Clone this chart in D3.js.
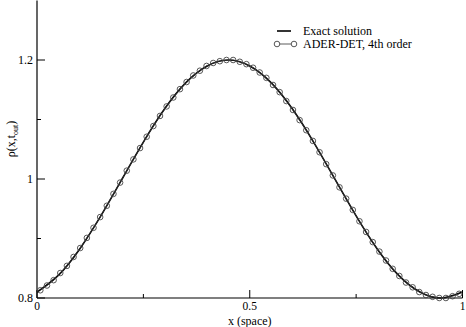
<!DOCTYPE html>
<html>
<head>
<meta charset="utf-8">
<script src="https://cdn.jsdelivr.net/npm/d3@7"></script>
<style>
  body { margin: 0; background: #fff; }
  text { font-family: "Liberation Serif", "DejaVu Serif", serif; fill: #000; }
</style>
</head>
<body>
<div class="svgBox"></div>
<script>
// exact solution, sampled along x
var exactX = [0, 0.05, 0.1, 0.15, 0.2, 0.25, 0.3, 0.35, 0.4, 0.45, 0.5,
              0.55, 0.6, 0.65, 0.7, 0.75, 0.8, 0.85, 0.9, 0.95, 1];
var exactRho = [0.810, 0.838, 0.882, 0.938, 1.000, 1.062, 1.118, 1.162, 1.190, 1.200, 1.190,
                1.162, 1.118, 1.062, 1.000, 0.938, 0.882, 0.838, 0.810, 0.800, 0.810];

// ADER-DET 4th order, cell centres (64 cells)
var aderRho = [0.813, 0.821, 0.830, 0.842, 0.854, 0.869, 0.884, 0.901,
               0.918, 0.936, 0.955, 0.975, 0.994, 1.014, 1.033, 1.052,
               1.071, 1.089, 1.106, 1.122, 1.137, 1.151, 1.163, 1.174,
               1.182, 1.190, 1.195, 1.198, 1.200, 1.200, 1.197, 1.193,
               1.187, 1.179, 1.170, 1.158, 1.146, 1.131, 1.116, 1.099,
               1.082, 1.064, 1.045, 1.025, 1.006, 0.986, 0.967, 0.948,
               0.929, 0.911, 0.894, 0.878, 0.863, 0.849, 0.837, 0.826,
               0.818, 0.810, 0.805, 0.802, 0.800, 0.800, 0.803, 0.807];

var xMajor = [0, 0.5, 1];
var xMinor = [0.25, 0.75];
var yMajor = [0.8, 1.0, 1.2];
var yMinor = [0.9, 1.1];
var legendLabels = ["Exact solution", "ADER-DET, 4th order"];

var W = 466, H = 327;
var margin = {left: 37, right: 3, top: 0, bottom: 29};

var svg = d3.select(".svgBox").append("svg")
    .attr("width", W)
    .attr("height", H);

var x = d3.scaleLinear().domain([0, 1]).range([margin.left, W - margin.right - 0.5]);
var y = d3.scaleLinear().domain([0.8, 1.3]).range([H - margin.bottom, margin.top + 0.5]);

var g = svg.append("g");

// 坐标轴线
g.append("line")
    .attr("x1", x(0)).attr("x2", x(0))
    .attr("y1", y(0.8)).attr("y2", y(1.3))
    .attr("stroke", "#000").attr("stroke-width", 1.2);
g.append("line")
    .attr("x1", x(0)).attr("x2", x(1))
    .attr("y1", y(0.8)).attr("y2", y(0.8))
    .attr("stroke", "#000").attr("stroke-width", 1.2);

// ticks point into the plot
g.selectAll(".xmaj").data(xMajor).enter().append("line")
    .attr("x1", function(d) { return x(d); })
    .attr("x2", function(d) { return x(d); })
    .attr("y1", y(0.8)).attr("y2", y(0.8) - 8)
    .attr("stroke", "#000");
g.selectAll(".xmin").data(xMinor).enter().append("line")
    .attr("x1", function(d) { return x(d); })
    .attr("x2", function(d) { return x(d); })
    .attr("y1", y(0.8)).attr("y2", y(0.8) - 4)
    .attr("stroke", "#000");
g.selectAll(".ymaj").data(yMajor).enter().append("line")
    .attr("x1", x(0)).attr("x2", x(0) + 8)
    .attr("y1", function(d) { return y(d); })
    .attr("y2", function(d) { return y(d); })
    .attr("stroke", "#000");
g.selectAll(".ymin").data(yMinor).enter().append("line")
    .attr("x1", x(0)).attr("x2", x(0) + 4)
    .attr("y1", function(d) { return y(d); })
    .attr("y2", function(d) { return y(d); })
    .attr("stroke", "#000");

// tick labels
g.selectAll(".xlab").data(xMajor).enter().append("text")
    .attr("x", function(d) { return x(d); })
    .attr("y", y(0.8) + 12)
    .attr("text-anchor", "middle")
    .attr("font-size", 11.5)
    .text(function(d) { return d3.format("")(d); });
g.selectAll(".ylab").data(yMajor).enter().append("text")
    .attr("x", x(0) - 4)
    .attr("y", function(d) { return y(d) + 4; })
    .attr("text-anchor", "end")
    .attr("font-size", 12)
    .text(function(d) { return d === 1 ? "1" : d3.format(".1f")(d); });

// axis titles
g.append("text")
    .attr("x", x(0.5))
    .attr("y", H - 2)
    .attr("text-anchor", "middle")
    .attr("font-size", 12)
    .text("x (space)");

var yt = g.append("text")
    .attr("transform", "translate(15," + 139 + ") rotate(-90)")
    .attr("text-anchor", "middle")
    .attr("font-size", 12);
yt.append("tspan").text("ρ(x,t");
yt.append("tspan").attr("font-size", 8).attr("dy", 3).text("out");
yt.append("tspan").attr("dy", -3).text(")");

// exact solution line
var exactData = exactX.map(function(d, i) { return [d, exactRho[i]]; });
var line = d3.line()
    .x(function(d) { return x(d[0]); })
    .y(function(d) { return y(d[1]); })
    .curve(d3.curveNatural);

g.append("path")
    .datum(exactData)
    .attr("d", line)
    .attr("fill", "none")
    .attr("stroke", "#000")
    .attr("stroke-width", 1.6);

// numerical solution: thin line + hollow circles
var aderData = aderRho.map(function(d, i) { return [(i + 0.5) / aderRho.length, d]; });
g.append("path")
    .datum(aderData)
    .attr("d", d3.line().x(function(d) { return x(d[0]); }).y(function(d) { return y(d[1]); }))
    .attr("fill", "none")
    .attr("stroke", "#333")
    .attr("stroke-width", 0.8);

g.selectAll("circle.pt").data(aderData).enter().append("circle")
    .attr("class", "pt")
    .attr("cx", function(d) { return x(d[0]); })
    .attr("cy", function(d) { return y(d[1]); })
    .attr("r", 2.8)
    .attr("fill", "none")
    .attr("stroke", "#444")
    .attr("stroke-width", 0.9);

// 图例
var lg = g.append("g").attr("transform", "translate(277,31)");
lg.append("line")
    .attr("x1", 0).attr("x2", 14).attr("y1", 0).attr("y2", 0)
    .attr("stroke", "#000").attr("stroke-width", 1.6);
lg.append("text").attr("x", 26).attr("y", 4).attr("font-size", 12).text(legendLabels[0]);

lg.append("line")
    .attr("x1", 0).attr("x2", 17).attr("y1", 13).attr("y2", 13)
    .attr("stroke", "#333").attr("stroke-width", 0.8);
lg.selectAll("circle").data([0, 17]).enter().append("circle")
    .attr("cx", function(d) { return d; })
    .attr("cy", 13)
    .attr("r", 2.8)
    .attr("fill", "#fff")
    .attr("stroke", "#444")
    .attr("stroke-width", 0.9);
lg.append("text").attr("x", 26).attr("y", 17).attr("font-size", 12).text(legendLabels[1]);
</script>
</body>
</html>
